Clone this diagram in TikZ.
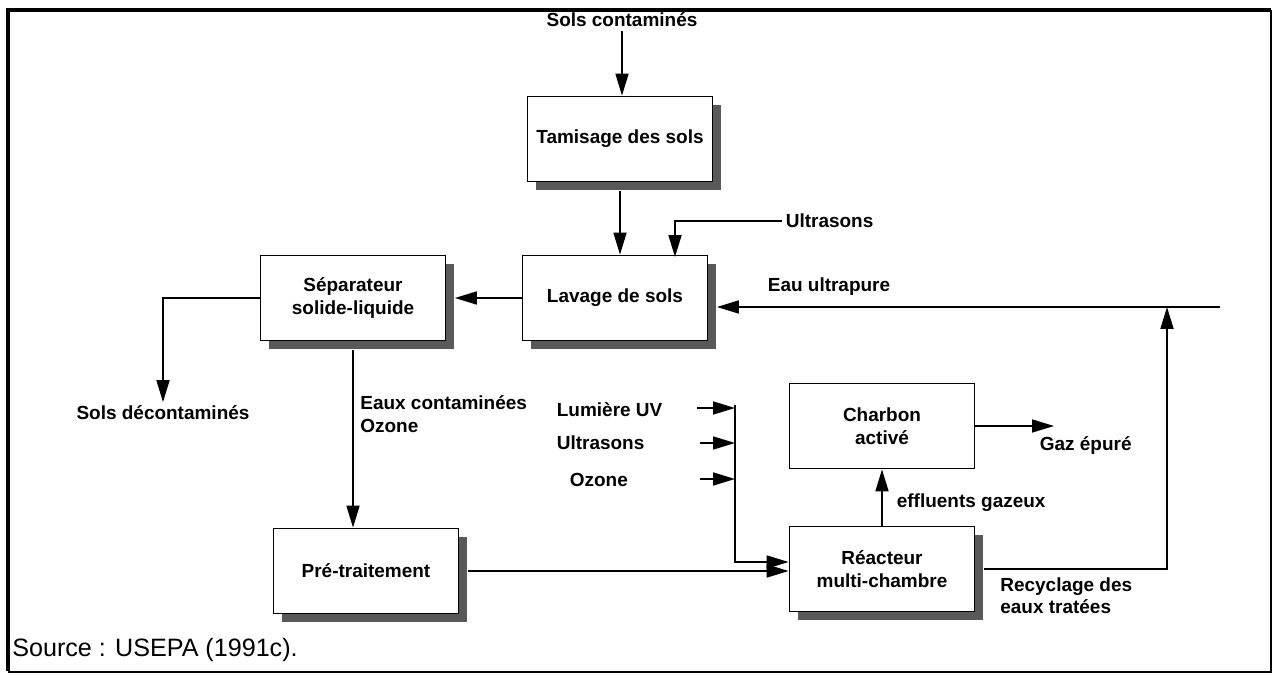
\documentclass[tikz,border=0pt]{standalone}
\usepackage{fontspec}
\setmainfont{Liberation Sans}
\usetikzlibrary{arrows.meta,shadows}

\tikzset{
  boite/.style={draw, fill=white, line width=1pt, minimum width=3.7cm, minimum height=1.7cm,
    align=center, font=\bfseries\fontsize{10.8}{13}\selectfont},
  ombre/.style={drop shadow={shadow xshift=0.17cm, shadow yshift=-0.17cm, opacity=1, fill=black!65}},
  etiq/.style={inner sep=2pt, align=left, font=\bfseries\fontsize{10.8}{13}\selectfont},
  fleche/.style={line width=1pt, -{Triangle[length=0.44cm,width=0.26cm]}},
  trait/.style={line width=1pt}
}

\begin{document}
\begin{tikzpicture}[x=0.02cm, y=-0.02cm]
    \useasboundingbox (0,0) rectangle (1272,675);

    % cadre
    \draw[line width=2.4pt] (8,671) -- (8,10) -- (1271,10);
    \draw[line width=0.6pt] (1271,10) -- (1271,672) -- (8,672);

    % boîtes
    \node[boite, ombre] (tamis) at (620,139) {Tamisage des sols};
    \node[boite, ombre] (lavage) at (615,298) {Lavage de sols};
    \node[boite, ombre] (separ) at (353,298) {Séparateur\\solide-liquide};
    \node[boite, ombre] (pretr) at (366,571) {Pré-traitement};
    \node[boite, ombre] (react) at (882,569) {Réacteur\\multi-chambre};
    \node[boite] (charbon) at (882,426) {Charbon\\activé};

    % textes
    \node[etiq] (solsC) at (622,20) {Sols contaminés};
    \node[etiq, anchor=west] (ultraA) at (782,221) {Ultrasons};
    \node[etiq, anchor=west] (eau) at (764,287) {Eau ultrapure};
    \node[etiq] (solsD) at (163,413) {Sols décontaminés};
    \node[etiq, anchor=north west, inner sep=0pt] (eauxC) at (360,395) {Eaux contaminées\\Ozone};
    \node[etiq, anchor=west] (lumiere) at (553,410) {Lumière UV};
    \node[etiq, anchor=west] (ultraB) at (553,443) {Ultrasons};
    \node[etiq, anchor=west] (ozone) at (566,480) {Ozone};
    \node[etiq, anchor=west] (efflu) at (893,503) {effluents gazeux};
    \node[etiq, anchor=west] (gaz) at (1036,446) {Gaz épuré};
    \node[etiq, anchor=north west, inner sep=0pt] (recyc) at (1000,577) {Recyclage des\\eaux tratées};
    \node[anchor=west, inner sep=0pt, font=\fontsize{14.3}{16}\selectfont] (source) at (12,650) {Source : USEPA (1991c).};

    % points de passage
    \coordinate (lavIn) at (675,257);
    \coordinate (eauIn) at (1220,307);
    \coordinate (jonc) at (1167,307);
    \coordinate (busH) at (735,405);
    \coordinate (busB) at (735,562);
    \coordinate (lumS) at (697,408);
    \coordinate (ultS) at (700,443);
    \coordinate (ozoS) at (700,479);
    \coordinate (gazT) at (1054,426);

    % flèches
    \draw[fleche] (solsC) -- (solsC |- tamis.north);
    \draw[fleche, shorten <=0.17cm] (tamis.south) -- (tamis.south |- lavage.north);
    \draw[fleche] (ultraA.west) -| (lavIn);
    \draw[fleche, shorten >=0.17cm] (eauIn) -- (lavage.east |- eauIn);
    \draw[fleche, shorten >=0.17cm] (lavage.west) -- (separ.east);
    \draw[fleche] (separ.west) -| (solsD.north);
    \draw[fleche, shorten <=0.17cm] (separ.south) -- (separ.south |- pretr.north);
    \draw[fleche, shorten <=0.17cm] (pretr.east) -- (pretr.east -| react.west);
    \draw[fleche] (lumS) -- (lumS -| busH);
    \draw[fleche] (ultS) -- (ultS -| busH);
    \draw[fleche] (ozoS) -- (ozoS -| busH);
    \draw[fleche] (busH) -- (busB) -- (busB -| react.west);
    \draw[fleche] (react.north) -- (charbon.south);
    \draw[fleche] (charbon.east) -- (gazT);
    \draw[fleche, shorten <=0.17cm] (react.east) -| (jonc);
\end{tikzpicture}
\end{document}
